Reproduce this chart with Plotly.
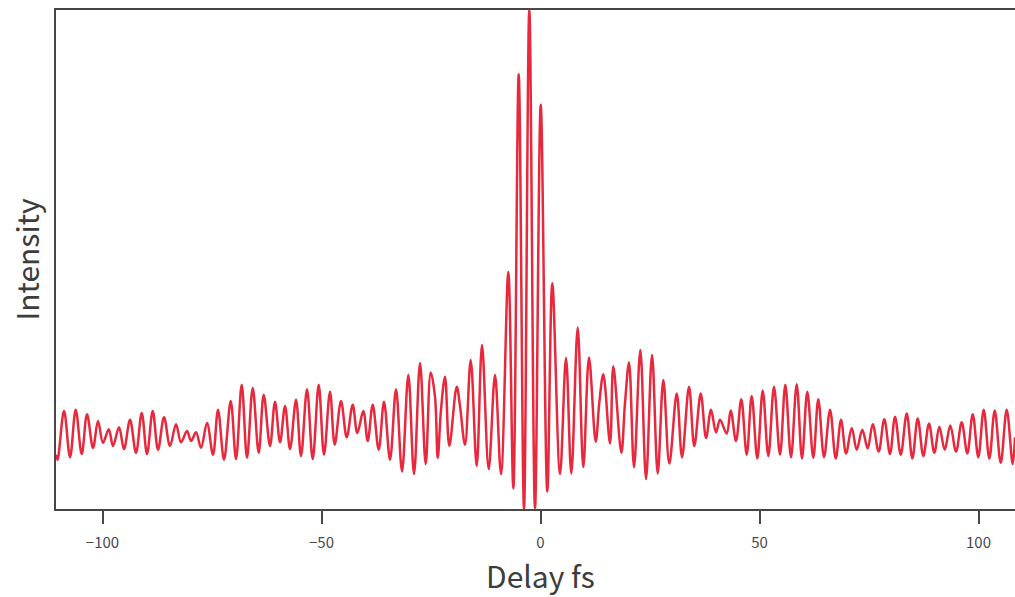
import plotly.graph_objects as go

# Interferometric autocorrelation trace: delay (fs) and intensity (a.u.) at
# each local maximum / minimum of the fringe pattern.
delay_fs = [
    -110.62, -110.27, -108.79, -107.42, -106.12, -104.75, -103.54, -102.17, -101.03, -99.89,
    -98.58, -97.60, -96.23, -95.09, -93.72, -92.35, -91.05, -89.84, -88.54, -87.33,
    -85.96, -84.59, -83.22, -82.08, -80.71, -79.79, -78.65, -77.51, -76.14, -74.77,
    -73.63, -72.26, -70.73, -69.52, -68.22, -67.01, -65.71, -64.34, -63.20, -61.76,
    -60.62, -59.47, -58.33, -57.19, -55.82, -54.68, -53.31, -52.01, -50.64, -49.43,
    -48.06, -46.99, -45.55, -44.25, -42.88, -41.83, -40.46, -39.45, -38.31, -36.94,
    -35.73, -34.36, -32.99, -31.62, -30.18, -28.88, -27.51, -26.21, -25.07, -24.09,
    -23.47, -22.72, -21.80, -20.82, -19.13, -18.38, -17.24, -15.94, -14.57, -13.36,
    -11.83, -10.39, -9.02, -7.35, -6.21, -4.98, -3.77, -2.56, -1.26, 0.05,
    1.55, 2.69, 4.45, 5.82, 7.03, 8.49, 9.77, 11.07, 12.60, 13.42,
    14.34, 15.87, 16.62, 18.45, 19.29, 20.21, 21.35, 22.79, 24.09, 25.46,
    26.76, 28.04, 29.41, 31.10, 32.31, 33.90, 35.11, 36.58, 37.79, 38.93,
    40.07, 40.98, 42.51, 43.42, 44.63, 45.84, 47.08, 48.22, 49.50, 50.73,
    52.01, 53.31, 54.68, 55.89, 57.19, 58.49, 59.70, 60.91, 62.28, 63.42,
    64.73, 66.10, 67.40, 68.61, 69.75, 71.05, 72.19, 73.47, 74.70, 75.84,
    77.21, 78.49, 79.79, 80.94, 82.24, 83.61, 84.89, 86.12, 87.40, 88.70,
    89.91, 91.05, 92.28, 93.56, 94.86, 96.16, 97.44, 98.68, 99.95, 101.19,
    102.47, 103.70, 105.07, 106.44, 107.81, 108.33,
]

intensity = [
    0.87, 0.79, 1.57, 0.83, 1.59, 0.88, 1.52, 0.98, 1.41, 1.06,
    1.28, 1.01, 1.31, 0.96, 1.43, 0.90, 1.54, 0.88, 1.57, 0.95,
    1.47, 1.01, 1.36, 1.07, 1.25, 1.09, 1.23, 0.98, 1.38, 0.87,
    1.59, 0.79, 1.73, 0.80, 1.99, 0.82, 1.94, 0.90, 1.83, 1.01,
    1.72, 1.07, 1.65, 0.96, 1.75, 0.85, 1.92, 0.80, 1.99, 0.87,
    1.88, 1.03, 1.73, 1.15, 1.67, 1.22, 1.57, 1.09, 1.67, 0.95,
    1.72, 0.79, 1.92, 0.60, 2.15, 0.56, 2.34, 0.72, 2.19, 1.80,
    0.82, 1.59, 2.12, 1.01, 1.96, 1.65, 1.03, 2.39, 0.69, 2.63,
    0.64, 2.15, 0.56, 3.80, 0.33, 6.97, 0.00, 8.00, 0.01, 6.48,
    0.28, 3.62, 0.56, 2.42, 0.57, 2.91, 0.67, 2.43, 1.08, 1.70,
    2.16, 1.05, 2.29, 0.90, 1.70, 2.35, 0.67, 2.55, 0.48, 2.47,
    0.57, 2.07, 0.73, 1.85, 0.83, 1.96, 1.01, 1.85, 1.14, 1.59,
    1.23, 1.43, 1.21, 1.58, 1.09, 1.76, 0.87, 1.81, 0.81, 1.90,
    0.85, 1.96, 0.87, 1.99, 0.83, 2.00, 0.81, 1.88, 0.82, 1.76,
    0.83, 1.59, 0.81, 1.43, 0.89, 1.30, 0.95, 1.27, 0.97, 1.36,
    0.92, 1.44, 0.88, 1.48, 0.87, 1.53, 0.81, 1.45, 0.85, 1.37,
    0.90, 1.32, 0.95, 1.34, 0.92, 1.39, 0.89, 1.52, 0.83, 1.59,
    0.81, 1.58, 0.74, 1.59, 0.72, 1.15,
]

x_tick_values = [-100, -50, 0, 50, 100]
x_range = [-110.62, 108.33]
y_range = [0, 8]

FRAME = "#474747"
FONT = "Noto Sans CJK JP, Noto Sans, sans-serif"

fig = go.Figure(
    go.Scatter(
        x=delay_fs,
        y=intensity,
        mode="lines",
        line=dict(color="#E8283C", width=2.5, shape="spline", smoothing=1.0),
        hoverinfo="x+y",
    )
)

fig.update_layout(
    width=1015,
    height=597,
    margin=dict(l=56, r=0, t=10, b=88),
    paper_bgcolor="white",
    plot_bgcolor="white",
    showlegend=False,
    font=dict(family=FONT, color="#444444"),
)

# Bottom axis with outside ticks; its mirror draws the top edge of the frame.
fig.update_xaxes(
    range=x_range,
    tickvals=x_tick_values,
    ticks="outside",
    ticklen=13,
    tickwidth=1.5,
    tickcolor=FRAME,
    tickfont=dict(size=15, color="#4a4a4a", family=FONT),
    ticklabelstandoff=6,
    showgrid=False,
    zeroline=False,
    showline=True,
    linecolor=FRAME,
    linewidth=1.5,
    mirror=True,
)

# Left edge only, no ticks or labels on the intensity axis.
fig.update_yaxes(
    range=y_range,
    showticklabels=False,
    ticks="",
    showgrid=False,
    zeroline=False,
    showline=True,
    linecolor=FRAME,
    linewidth=1.5,
    mirror=False,
)

fig.add_annotation(
    text="Delay fs", x=0, xref="x", y=0, yref="paper",
    yanchor="middle", yshift=-66, showarrow=False,
    font=dict(size=30, color="#3c3c3c", family=FONT),
)
fig.add_annotation(
    text="Intensity", x=0, xref="paper", y=0.5, yref="paper",
    xanchor="center", yanchor="middle", xshift=-31, textangle=-90,
    showarrow=False,
    font=dict(size=30, color="#3c3c3c", family=FONT),
)

fig.write_html("out.html")
